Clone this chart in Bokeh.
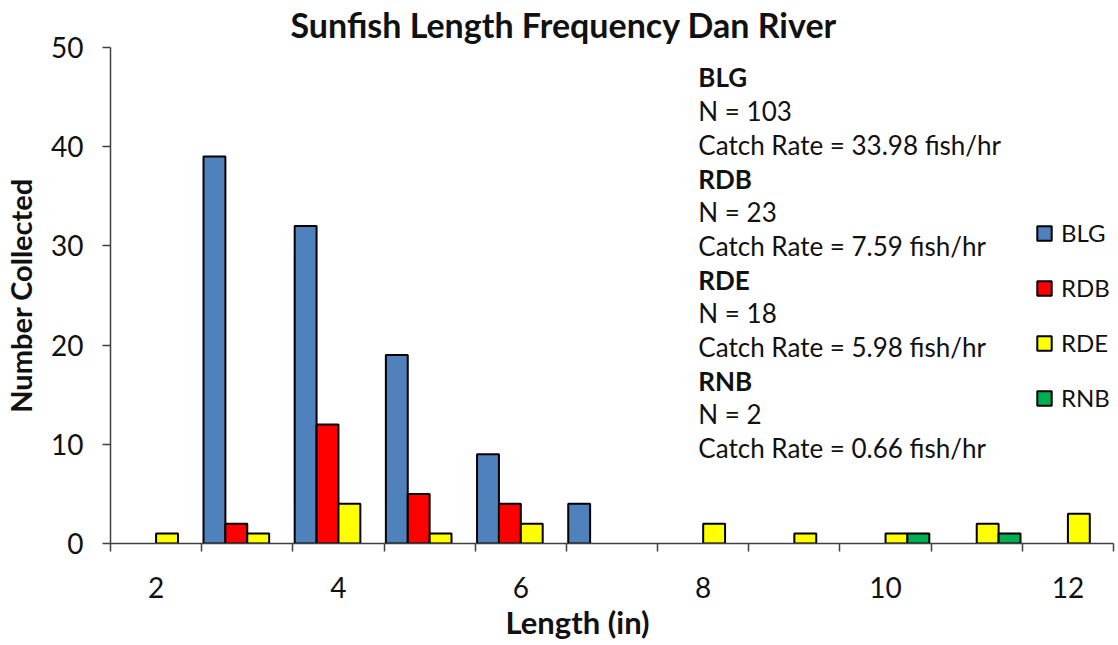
from bokeh.plotting import figure
from bokeh.models import ColumnDataSource, Range1d, FixedTicker, Legend, LegendItem, Title
from bokeh.transform import dodge
from bokeh.core.properties import value
from bokeh.embed import file_html
from bokeh.resources import INLINE

# ---- data ----
lengths = [2, 3, 4, 5, 6, 7, 8, 9, 10, 11, 12]
blg = [0, 39, 32, 19, 9, 4, 0, 0, 0, 0, 0]
rdb = [0, 2, 12, 5, 4, 0, 0, 0, 0, 0, 0]
rde = [1, 1, 4, 1, 2, 0, 2, 1, 1, 2, 3]
rnb = [0, 0, 0, 0, 0, 0, 0, 0, 1, 1, 0]
species = ["BLG", "RDB", "RDE", "RNB"]
n_text = ["N =  103", "N = 23", "N = 18", "N = 2"]
catch_rates = [33.98, 7.59, 5.98, 0.66]
x_label_ticks = [2, 4, 6, 8, 10, 12]
y_ticks = [0, 10, 20, 30, 40, 50]

# ---- style ----
colors = ["#4F81BD", "#FF0000", "#FFFF00", "#00B050"]
offsets = [-0.36, -0.12, 0.12, 0.36]
FONT = "Lato"
TXT = "#111111"
AX = "#404040"

p = figure(width=1116, height=645, output_backend="svg", toolbar_location=None,
           x_range=Range1d(1.5, 12.5), y_range=Range1d(0, 50),
           min_border_left=108, min_border_right=3, min_border_top=47, min_border_bottom=102)
p.outline_line_color = None
p.xgrid.visible = False
p.ygrid.visible = False

p.title = Title(text="Sunfish Length Frequency Dan River", align="left", offset=180,
                vertical_align="top",
                text_font=FONT, text_font_size="34px", text_font_style="bold",
                text_color=TXT, standoff=2)

renderers = []
for name, vals, col, off in zip(species, [blg, rdb, rde, rnb], colors, offsets):
    xs = [l for l, v in zip(lengths, vals) if v > 0]
    ys = [v for v in vals if v > 0]
    src = ColumnDataSource(dict(x=xs, top=ys))
    r = p.vbar(x=dodge("x", off), top="top", bottom=0, width=0.24, source=src,
               fill_color=col, line_color="black", line_width=2)
    renderers.append((name, r))

# x axis: boundary ticks as minor ticks, labels every other category
xa = p.xaxis[0]
xa.ticker = FixedTicker(ticks=x_label_ticks,
                        minor_ticks=[l - 0.5 for l in lengths] + [lengths[-1] + 0.5])
xa.major_tick_out = 0
xa.major_tick_in = 0
xa.minor_tick_out = 8
xa.minor_tick_in = 0
xa.minor_tick_line_color = AX
xa.minor_tick_line_width = 1.5
xa.axis_line_color = AX
xa.axis_line_width = 1.5
xa.major_label_text_font = FONT
xa.major_label_text_font_size = "28px"
xa.major_label_text_color = TXT
xa.major_label_standoff = 25

ya = p.yaxis[0]
ya.ticker = FixedTicker(ticks=y_ticks, minor_ticks=[])
ya.major_tick_out = 8
ya.major_tick_in = 0
ya.major_tick_line_color = AX
ya.major_tick_line_width = 1.5
ya.axis_line_color = AX
ya.axis_line_width = 1.5
ya.major_label_text_font = FONT
ya.major_label_text_font_size = "28px"
ya.major_label_text_color = TXT
ya.major_label_standoff = 19
ya.axis_label = "Number Collected"
ya.axis_label_text_font = FONT
ya.axis_label_text_font_size = "29px"
ya.axis_label_text_font_style = "bold"
ya.axis_label_text_color = TXT
ya.axis_label_standoff = 10

# x axis title, centred on the chart like the original
p.add_layout(Title(text="Length (in)", align="left", offset=395, vertical_align="middle",
                   text_font=FONT, text_font_size="31px", text_font_style="bold",
                   text_color=TXT, standoff=2), "below")

# annotation block
lines, styles = [], []
for sp, nt, cr in zip(species, n_text, catch_rates):
    lines += [sp, nt, f"Catch Rate = {cr:.2f} fish/hr"]
    styles += ["bold", "normal", "normal"]
x0, y0, step = 7.947, 46.98, 3.397
ann = ColumnDataSource(dict(x=[x0] * len(lines), y=[y0 - i * step for i in range(len(lines))],
                            text=lines, style=styles))
p.text(x="x", y="y", text="text", source=ann, text_font=value(FONT), text_font_size="26px",
       text_font_style="style", text_color=TXT, text_baseline="middle", text_align="left")

legend = Legend(items=[LegendItem(label=n, renderers=[r]) for n, r in renderers],
                location=(925, 131), border_line_color=None, background_fill_alpha=0,
                glyph_width=18, glyph_height=18, label_text_font=FONT,
                label_text_font_size="24px", label_text_color=TXT, spacing=26,
                padding=0, margin=0, label_standoff=8)
p.add_layout(legend)

open("out.html", "w").write(file_html(p, INLINE))
